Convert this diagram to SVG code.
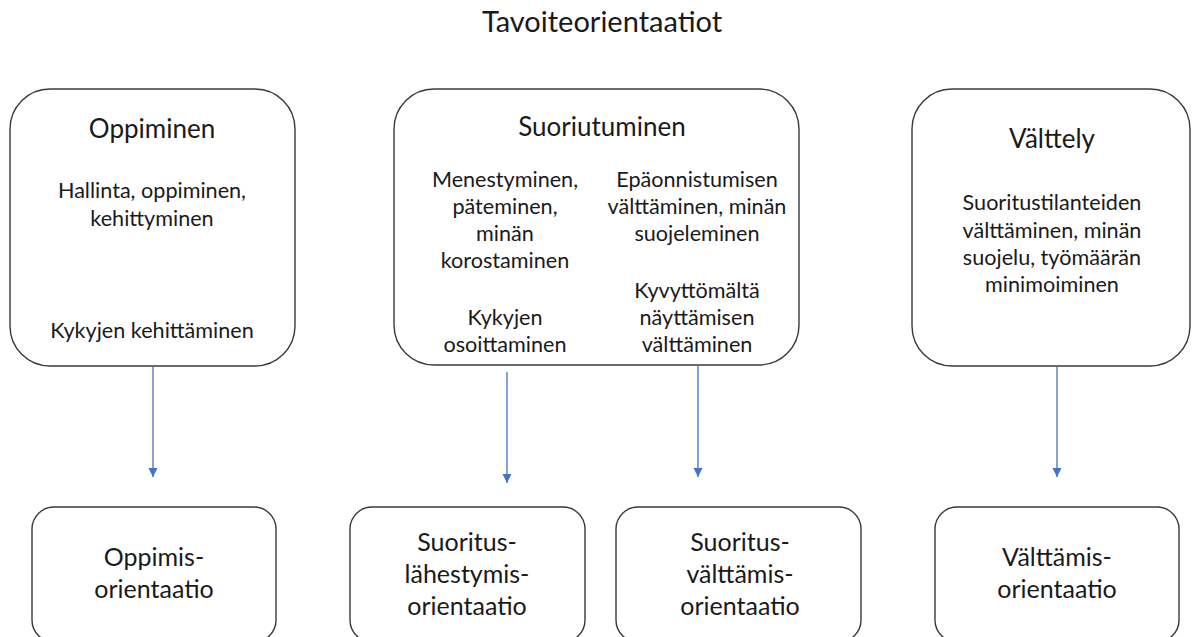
<svg xmlns="http://www.w3.org/2000/svg" width="1192" height="637" viewBox="0 0 1192 637">
<defs>
<style>
.box{fill:#fff;stroke:#3a3a3a;stroke-width:1.4}
.t{font-family:Lato,"Liberation Sans",sans-serif;fill:#1a1a1a;text-anchor:middle}
.title{font-size:29px}
.h{font-size:26px}
.b{font-size:21.6px}
.o{font-size:25px}
.c{stroke:#4472C4;stroke-width:1.3;fill:none;marker-end:url(#ah)}
</style>
<marker id="ah" markerWidth="10" markerHeight="10" refX="9" refY="4.5" orient="auto" markerUnits="userSpaceOnUse">
<path d="M0,0 L9,4.5 L0,9 Z" fill="#4472C4"/>
</marker>
</defs>
<rect width="1192" height="637" fill="#fff"/>
<text class="t title" x="602" y="32">Tavoiteorientaatiot</text>

<g id="oppiminen">
<rect class="box" x="10" y="89" width="285" height="277" rx="40"/>
<text class="t h" x="152" y="138">Oppiminen</text>
<text class="t b" x="152" y="198">Hallinta, oppiminen,</text>
<text class="t b" x="152" y="226">kehittyminen</text>
<text class="t b" x="152" y="338">Kykyjen kehittäminen</text>
</g>

<g id="suoriutuminen">
<rect class="box" x="394" y="89" width="405" height="276" rx="40"/>
<text class="t h" x="602" y="136">Suoriutuminen</text>
<text class="t b" x="505" y="187">Menestyminen,</text>
<text class="t b" x="505" y="214">päteminen,</text>
<text class="t b" x="505" y="241">minän</text>
<text class="t b" x="505" y="268">korostaminen</text>
<text class="t b" x="505" y="325">Kykyjen</text>
<text class="t b" x="505" y="352">osoittaminen</text>
<text class="t b" x="697" y="187">Epäonnistumisen</text>
<text class="t b" x="697" y="214">välttäminen, minän</text>
<text class="t b" x="697" y="241">suojeleminen</text>
<text class="t b" x="697" y="298">Kyvyttömältä</text>
<text class="t b" x="697" y="325">näyttämisen</text>
<text class="t b" x="697" y="352">välttäminen</text>
</g>

<g id="valttely">
<rect class="box" x="912" y="89" width="278" height="277" rx="40"/>
<text class="t h" x="1052" y="148">Välttely</text>
<text class="t b" x="1052" y="210">Suoritustilanteiden</text>
<text class="t b" x="1052" y="238">välttäminen, minän</text>
<text class="t b" x="1052" y="265">suojelu, työmäärän</text>
<text class="t b" x="1052" y="292">minimoiminen</text>
</g>

<g id="oppimisorientaatio">
<rect class="box" x="32" y="507" width="244" height="135" rx="22"/>
<text class="t o" x="154" y="566">Oppimis-</text>
<text class="t o" x="154" y="598">orientaatio</text>
</g>

<g id="suorituslahestymisorientaatio">
<rect class="box" x="350" y="507" width="235" height="135" rx="22"/>
<text class="t o" x="467" y="551">Suoritus-</text>
<text class="t o" x="467" y="583">lähestymis-</text>
<text class="t o" x="467" y="615">orientaatio</text>
</g>

<g id="suoritusvalttamisorientaatio">
<rect class="box" x="616" y="507" width="245" height="135" rx="22"/>
<text class="t o" x="740" y="551">Suoritus-</text>
<text class="t o" x="740" y="583">välttämis-</text>
<text class="t o" x="740" y="615">orientaatio</text>
</g>

<g id="valttamisorientaatio">
<rect class="box" x="935" y="507" width="244" height="135" rx="22"/>
<text class="t o" x="1057" y="566">Välttämis-</text>
<text class="t o" x="1057" y="598">orientaatio</text>
</g>

<g id="connectors">
<line class="c" x1="153" y1="366" x2="153" y2="477"/>
<line class="c" x1="507" y1="372" x2="507" y2="483"/>
<line class="c" x1="698" y1="366" x2="698" y2="477"/>
<line class="c" x1="1057" y1="366" x2="1057" y2="477"/>
</g>
</svg>
